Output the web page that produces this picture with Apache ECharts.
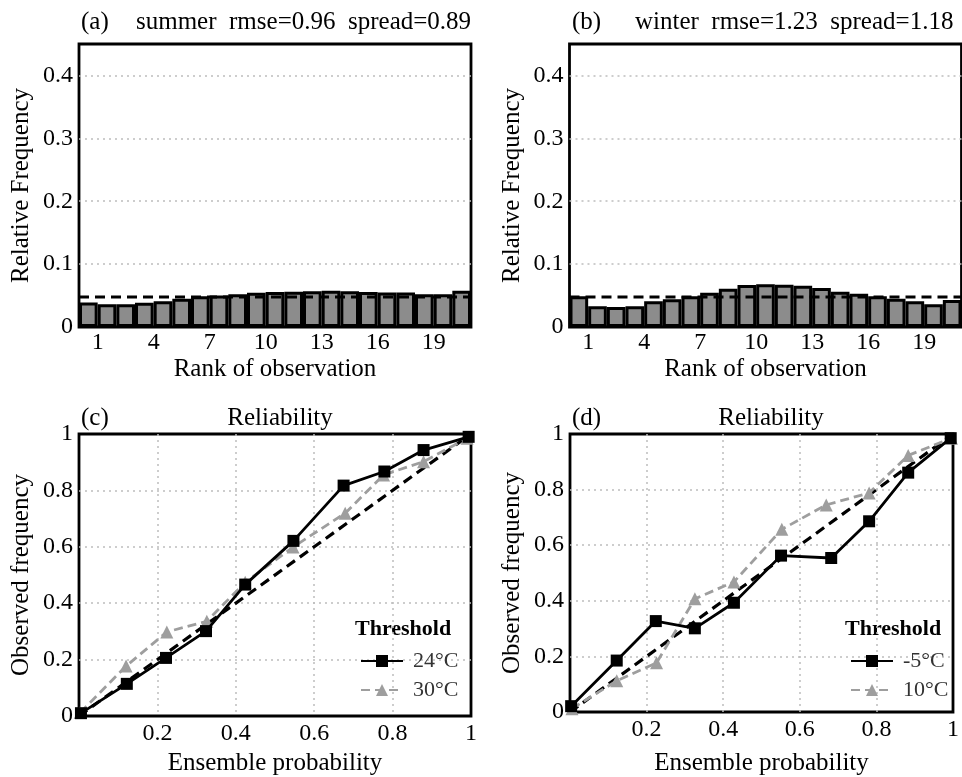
<!DOCTYPE html>
<html>
<head>
<meta charset="utf-8">
<script src="https://cdn.jsdelivr.net/npm/echarts@6/dist/echarts.min.js"></script>
<style>
  html, body { margin: 0; padding: 0; background: #fff; }
  #main { width: 962px; height: 777px; }
</style>
</head>
<body>
<div id="main"></div>
<script>
// rank histogram data (21 ranks)
const ranks = [1, 2, 3, 4, 5, 6, 7, 8, 9, 10, 11, 12, 13, 14, 15, 16, 17, 18, 19, 20, 21];
const summerFreq = [0.039, 0.036, 0.036, 0.0386, 0.041, 0.045, 0.0487, 0.050, 0.052, 0.0545, 0.0556,
  0.056, 0.057, 0.0577, 0.057, 0.0556, 0.055, 0.055, 0.052, 0.052, 0.0577];
const winterFreq = [0.049, 0.033, 0.032, 0.033, 0.041, 0.044, 0.0487, 0.0545, 0.061, 0.0667, 0.068,
  0.067, 0.0656, 0.062, 0.056, 0.053, 0.049, 0.045, 0.041, 0.036, 0.043];
const expectedFreq = 1 / 21;
const rankTicks = [1, 4, 7, 10, 13, 16, 19];

// reliability data
const probSummer24 = [0.005, 0.122, 0.222, 0.324, 0.424, 0.547, 0.675, 0.779, 0.879, 0.994];
const obsSummer24 = [0.01, 0.114, 0.206, 0.301, 0.466, 0.621, 0.817, 0.867, 0.943, 0.99];
const probSummer30 = [0.003, 0.12, 0.224, 0.326, 0.424, 0.546, 0.679, 0.777, 0.879, 0.99];
const obsSummer30 = [0.012, 0.177, 0.298, 0.336, 0.474, 0.599, 0.719, 0.855, 0.902, 0.985];
const probWinterM5 = [0.003, 0.122, 0.224, 0.326, 0.428, 0.551, 0.682, 0.781, 0.883, 0.994];
const obsWinterM5 = [0.021, 0.185, 0.327, 0.301, 0.393, 0.5625, 0.554, 0.686, 0.861, 0.985];
const probWinter10 = [0.005, 0.122, 0.226, 0.326, 0.428, 0.553, 0.669, 0.781, 0.883, 0.996];
const obsWinter10 = [0.012, 0.112, 0.177, 0.407, 0.468, 0.657, 0.745, 0.788, 0.923, 0.985];
const diagonal = [[0, 0], [1, 1]];

const FONT = 'Liberation Serif';
const GRAY = '#9e9e9e';
const plotW = 392;

const chart = echarts.init(document.getElementById('main'));

const zip = (xs, ys) => xs.map((x, i) => [x, ys[i]]);
const fmt = (v) => String(+v.toFixed(2));

const grids = [
  { left: 79, top: 44, width: plotW, height: 283 },
  { left: 569.5, top: 44, width: plotW, height: 283 },
  { left: 79, top: 434, width: plotW, height: 283 },
  { left: 570, top: 434, width: plotW, height: 283 }
].map(g => Object.assign({ show: true, borderColor: '#000', borderWidth: 2.8, containLabel: false }, g));

// dotted grid, edge lines hidden so the black frame stays solid
const split = {
  show: true, showMinLine: false, showMaxLine: false,
  lineStyle: { color: '#bdbdbd', type: [2, 4], width: 1.5 }
};
const labelStyle = { color: '#000', fontFamily: FONT, fontSize: 24 };
const nameStyle = { color: '#000', fontFamily: FONT, fontSize: 25 };

function rankX(i) {
  return {
    gridIndex: i, type: 'value', min: 0, max: 21,
    axisLine: { show: false }, axisTick: { show: false }, splitLine: { show: false },
    axisLabel: Object.assign({ customValues: rankTicks, margin: 4 }, labelStyle),
    name: 'Rank of observation', nameLocation: 'middle', nameGap: 30, nameTextStyle: nameStyle
  };
}
function freqY(i) {
  return {
    gridIndex: i, type: 'value', min: 0, max: 0.45, interval: 0.1,
    axisLine: { show: false }, axisTick: { show: false }, splitLine: split,
    axisLabel: Object.assign({ showMaxLabel: false, margin: 6, formatter: fmt }, labelStyle),
    name: 'Relative Frequency', nameLocation: 'middle', nameGap: 45, nameTextStyle: nameStyle
  };
}
function probX(i, gap) {
  return {
    gridIndex: i, type: 'value', min: 0, max: 1, interval: 0.2,
    axisLine: { show: false }, axisTick: { show: false }, splitLine: split,
    axisLabel: Object.assign({ showMinLabel: false, margin: 6, formatter: fmt }, labelStyle),
    name: 'Ensemble probability', nameLocation: 'middle', nameGap: gap, nameTextStyle: nameStyle
  };
}
function obsY(i) {
  return {
    gridIndex: i, type: 'value', min: 0, max: 1, interval: 0.2,
    axisLine: { show: false }, axisTick: { show: false }, splitLine: split,
    axisLabel: Object.assign({ margin: 6, formatter: fmt }, labelStyle),
    name: 'Observed frequency', nameLocation: 'middle', nameGap: 45, nameTextStyle: nameStyle
  };
}

function histSeries(i, freq) {
  return [
    {
      type: 'bar', xAxisIndex: i, yAxisIndex: i,
      data: zip(ranks.map(r => r - 0.5), freq),
      barWidth: plotW / ranks.length,
      itemStyle: { color: '#8c8c8c', borderColor: '#000', borderWidth: 3 },
      silent: true
    },
    {
      type: 'line', xAxisIndex: i, yAxisIndex: i,
      data: [[0, expectedFreq], [21, expectedFreq]],
      symbol: 'none', z: 5,
      lineStyle: { color: '#000', width: 3, type: [10, 6] },
      silent: true
    }
  ];
}

function relSeries(i, name1, xs1, ys1, name2, xs2, ys2) {
  return [
    {
      type: 'line', xAxisIndex: i, yAxisIndex: i, data: diagonal,
      symbol: 'none', z: 2,
      lineStyle: { color: '#000', width: 3.2, type: [10, 6] }
    },
    {
      name: name2, type: 'line', xAxisIndex: i, yAxisIndex: i, data: zip(xs2, ys2),
      symbol: 'triangle', symbolSize: 13, z: 3,
      itemStyle: { color: GRAY },
      lineStyle: { color: GRAY, width: 2.8, type: [9, 5] }
    },
    {
      name: name1, type: 'line', xAxisIndex: i, yAxisIndex: i, data: zip(xs1, ys1),
      symbol: 'rect', symbolSize: 12, z: 4,
      itemStyle: { color: '#000' },
      lineStyle: { color: '#000', width: 2.8 }
    }
  ];
}

function legendAt(left, names) {
  return {
    data: names, left: left, top: 645, orient: 'vertical',
    itemWidth: 42, itemHeight: 15, itemGap: 7,
    selectedMode: false,
    textStyle: { color: '#333', fontFamily: FONT, fontSize: 22, padding: [0, 0, 0, 5] }
  };
}

const titleText = (text, left, top, extra) =>
  Object.assign({ text: text, left: left, top: top,
    textStyle: { color: '#000', fontFamily: FONT, fontSize: 25, fontWeight: 'normal' } }, extra || {});

const option = {
  backgroundColor: '#fff',
  animation: false,
  title: [
    titleText('(a)', 76, 5),
    titleText('summer  rmse=0.96  spread=0.89', 131, 5),
    titleText('(b)', 567, 5),
    titleText('winter  rmse=1.23  spread=1.18', 630, 5),
    titleText('(c)', 76, 401),
    titleText('Reliability', 275, 401, { textAlign: 'center' }),
    titleText('(d)', 567, 401),
    titleText('Reliability', 766, 401, { textAlign: 'center' })
  ],
  graphic: [
    { type: 'text', left: 355, top: 618,
      style: { text: 'Threshold', fill: '#000', font: 'bold 22px "Liberation Serif"' } },
    { type: 'text', left: 845, top: 618,
      style: { text: 'Threshold', fill: '#000', font: 'bold 22px "Liberation Serif"' } }
  ],
  legend: [
    legendAt(355, ['24°C', '30°C']),
    legendAt(845, ['-5°C', '10°C'])
  ],
  grid: grids,
  xAxis: [rankX(0), rankX(1), probX(2, 35), probX(3, 39)],
  yAxis: [freqY(0), freqY(1), obsY(2), obsY(3)],
  series: [].concat(
    histSeries(0, summerFreq),
    histSeries(1, winterFreq),
    relSeries(2, '24°C', probSummer24, obsSummer24, '30°C', probSummer30, obsSummer30),
    relSeries(3, '-5°C', probWinterM5, obsWinterM5, '10°C', probWinter10, obsWinter10)
  )
};

chart.setOption(option);
</script>
</body>
</html>
